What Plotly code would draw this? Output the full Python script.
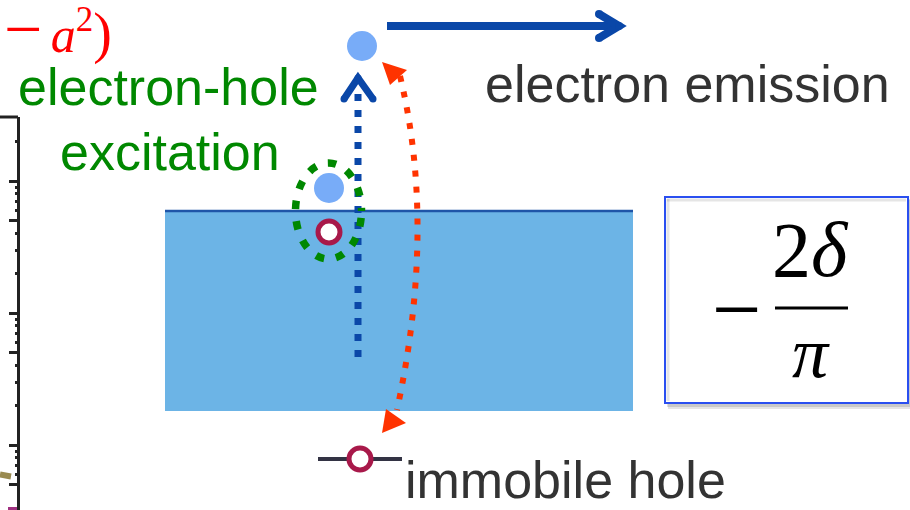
import plotly.graph_objects as go

# ---------------- data (diagram content) ----------------
electron_x = [362, 329]          # free electron / excited electron
electron_y = [46, 188]
hole_x = [329, 360]              # excited hole / immobile core hole
hole_y = [232, 459]

axis_major_vals = [0.5, 1, 5, 10, 50, 100]
axis_minor_vals = [0.6, 0.7, 0.8, 0.9, 2, 3, 4, 6, 7, 8, 9, 20, 30, 40, 60, 70, 80, 90, 200]

label_excitation = ["electron-hole", "excitation"]
label_emission = "electron emission"
label_hole = "immobile hole"
label_red = ("<span style='font-size:68px'>−</span>\u2006<i>a</i><sup>2</sup>"
             "<span style='font-size:56px'>)</span>")
formula_num = "2<i>δ</i>"
formula_den = "<i>π</i>"
formula_sign = "−"

W, H = 910, 510
SANS = "Liberation Sans, Arial, Helvetica, sans-serif"
SERIF = "Liberation Serif, Times New Roman, serif"
DARKBLUE = "#0a47a8"
GREEN = "#008800"
RED = "#ff3300"
CRIMSON = "#a8194a"

fig = go.Figure()

# ---------------- shapes below traces ----------------
fig.add_shape(type="rect", x0=165, x1=633, y0=211, y1=411,
              fillcolor="#6cb4e6", line_width=0, layer="below")
fig.add_shape(type="line", x0=165, x1=633, y0=211, y1=211,
              line=dict(color="#1f55a8", width=2.5), layer="below")
fig.add_shape(type="rect", x0=668, x1=913, y0=200, y1=409,
              fillcolor="rgba(0,0,0,0.10)", line_width=0, layer="below")
fig.add_shape(type="rect", x0=667, x1=911, y0=199, y1=407,
              fillcolor="rgba(0,0,0,0.12)", line_width=0, layer="below")
fig.add_shape(type="rect", x0=665, x1=908, y0=197, y1=403,
              fillcolor="white", line=dict(color="#2a4ff0", width=2), layer="below")
fig.add_shape(type="line", x0=667, x1=906, y0=200, y1=200,
              line=dict(color="rgba(0,0,0,0.10)", width=3), layer="below")
fig.add_shape(type="line", x0=668, x1=668, y0=199, y1=401,
              line=dict(color="rgba(0,0,0,0.10)", width=3), layer="below")
fig.add_shape(type="line", x0=318, x1=402, y0=459, y1=459,
              line=dict(color="#333344", width=4), layer="below")
fig.add_shape(type="line", x0=0, x1=18, y0=117, y1=117,
              line=dict(color="#222222", width=3), layer="below")

# ---------------- traces ----------------
fig.add_trace(go.Scatter(x=[0, 11], y=[474.5, 476.5], mode="lines",
                         line=dict(color="#998a50", width=6), hoverinfo="skip"))
fig.add_trace(go.Scatter(x=[8, 20], y=[509, 509], mode="lines",
                         line=dict(color="#a03080", width=4), hoverinfo="skip"))
fig.add_trace(go.Scatter(x=electron_x, y=electron_y, mode="markers",
                         marker=dict(size=30, color="#78acf8"), hoverinfo="skip"))
fig.add_trace(go.Scatter(x=hole_x, y=hole_y, mode="markers",
                         marker=dict(size=22, color="white",
                                     line=dict(color=CRIMSON, width=5)),
                         hoverinfo="skip"))
fig.add_trace(go.Scatter(x=[387, 618], y=[26, 26], mode="lines",
                         line=dict(color=DARKBLUE, width=8), hoverinfo="skip"))
fig.add_trace(go.Scatter(x=[599, 619, 599], y=[14, 26, 38], mode="lines+markers",
                         line=dict(color=DARKBLUE, width=8),
                         marker=dict(size=8, color=DARKBLUE), hoverinfo="skip"))
fig.add_trace(go.Scatter(x=[344, 358, 373], y=[99, 78, 99], mode="lines+markers",
                         line=dict(color=DARKBLUE, width=7),
                         marker=dict(size=7, color=DARKBLUE), hoverinfo="skip"))
fig.add_trace(go.Scatter(x=[0], y=[1], yaxis="y2", mode="markers",
                         marker=dict(opacity=0), hoverinfo="skip"))

# ---------------- shapes above traces ----------------
fig.add_shape(type="line", x0=358, x1=358, y0=94, y1=357,
              line=dict(color=DARKBLUE, width=7, dash="7px,9px"))
fig.add_shape(type="circle", x0=295.5, x1=361.5, y0=163, y1=259,
              line=dict(color=GREEN, width=7.5, dash="0px,7px,8.5px,5px"))
fig.add_shape(type="path", path="M400,76 Q436.5,227 397,410",
              line=dict(color=RED, width=6, dash="6px,10px"))
fig.add_shape(type="path", path="M382,62 L407,70 L390,85 Z",
              fillcolor=RED, line_width=0)
fig.add_shape(type="path", path="M382,433 L386,409 L406,423 Z",
              fillcolor=RED, line_width=0)
fig.add_shape(type="line", x0=775, x1=848, y0=308, y1=308,
              line=dict(color="black", width=3))

# ---------------- text ----------------
def txt(x, y, s, size, color, family=SANS, xanchor="center"):
    fig.add_annotation(x=x, y=y, xref="x", yref="y", text=s, showarrow=False,
                       xanchor=xanchor, yanchor="middle",
                       font=dict(size=size, color=color, family=family))

txt(2, 29, label_red, 50, "#ff0000", SERIF, xanchor="left")
txt(168.5, 87, label_excitation[0], 52, GREEN)
txt(170, 152, label_excitation[1], 52, GREEN)
txt(687.5, 84, label_emission, 52, "#333333")
txt(565, 480, label_hole, 52, "#333333")
txt(737, 309, formula_sign, 88, "black", SERIF)
txt(810, 249, formula_num, 78, "black", SERIF)
txt(811, 353, formula_den, 72, "black", SERIF)

# ---------------- layout ----------------
dom_top = (H - 117) / H
r0 = -(H - 445) / 132.0
r1 = r0 + (H - 117) / 132.0
fig.update_layout(
    width=W, height=H, autosize=False,
    margin=dict(l=0, r=0, t=0, b=0, pad=0),
    paper_bgcolor="white", plot_bgcolor="rgba(0,0,0,0)",
    showlegend=False,
    xaxis=dict(range=[0, W], visible=False, fixedrange=True),
    yaxis=dict(range=[H, 0], visible=False, fixedrange=True),
    yaxis2=dict(type="log", domain=[0, dom_top], range=[r0, r1],
                anchor="free", position=17.5 / W, side="left",
                showline=True, linecolor="#222222", linewidth=3,
                ticks="outside", ticklen=8, tickwidth=3, tickcolor="#222222",
                tickvals=axis_major_vals, showticklabels=False,
                showgrid=False, zeroline=False, fixedrange=True,
                minor=dict(tickvals=axis_minor_vals, ticks="outside",
                           ticklen=2, tickwidth=2.5, tickcolor="#222222",
                           showgrid=False)),
)

fig.write_html("out.html", config={"displayModeBar": False},
               post_script="document.body.style.margin='0';document.body.style.overflow='hidden';")
